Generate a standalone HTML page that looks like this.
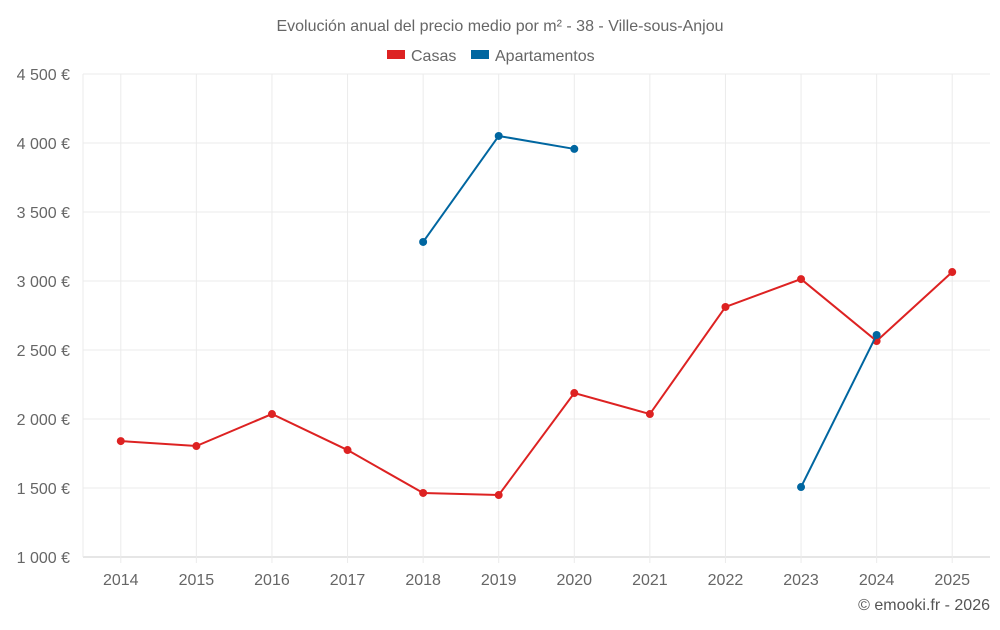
<!DOCTYPE html>
<html><head><meta charset="utf-8"><style>
body{margin:0;background:#fff;}
svg{font-family:"Liberation Sans",sans-serif;}
</style></head><body>
<svg id="c" width="1000" height="625">
<text x="500" y="31" text-anchor="middle" font-size="16" fill="#666">Evolución anual del precio medio por m² - 38 - Ville-sous-Anjou</text>
<g>
<g><rect x="387" y="50" width="18" height="9" fill="#dd2222"/><text x="411" y="61" font-size="16" fill="#666">Casas</text></g>
<g><rect x="471" y="50" width="18" height="9" fill="#0066a0"/><text x="495" y="61" font-size="16" fill="#666">Apartamentos</text></g>
</g>
<g id="grid"></g><g id="axes"></g><g id="series"></g>
<text x="990" y="610" text-anchor="end" font-size="16" fill="#555">© emooki.fr - 2026</text>
</svg>
<script>
const years=["2014","2015","2016","2017","2018","2019","2020","2021","2022","2023","2024","2025"];
const casas=[1840,1804,2036,1775,1464,1449,2188,2036,2812,3014,2565,3065];
const apartamentos=[null,null,null,null,3283,4051,3957,null,null,1507,2609,null];
const yTicks=[1000,1500,2000,2500,3000,3500,4000,4500];
const yTickLabels=["1 000 €","1 500 €","2 000 €","2 500 €","3 000 €","3 500 €","4 000 €","4 500 €"];
const L=83,R=990,T=74,B=557,ymin=1000,ymax=4500;
const bw=(R-L)/years.length;
const xs=i=>L+bw*(i+0.5);
const ys=v=>B-(v-ymin)/(ymax-ymin)*(B-T);
const NS="http://www.w3.org/2000/svg";
function mk(t,a,p){const e=document.createElementNS(NS,t);for(const k in a)e.setAttribute(k,a[k]);p.appendChild(e);return e;}
const grid=document.getElementById('grid'),axes=document.getElementById('axes'),ser=document.getElementById('series');
yTicks.forEach((v,i)=>{
 const l=mk('line',{x1:L,x2:R,y1:ys(v),y2:ys(v),stroke:i==0?'#ccc':'#ebebeb'},grid);
 
 
 const t=mk('text',{x:70,y:ys(v)+6,'text-anchor':'end','font-size':16,fill:'#666'},axes);
 t.textContent=yTickLabels[i];
 
 
});
mk('line',{x1:L,x2:L,y1:T,y2:B,stroke:'#ebebeb'},grid);
years.forEach((y,i)=>{
 const l=mk('line',{x1:xs(i),x2:xs(i),y1:T,y2:B+6,stroke:'#ebebeb'},grid);
 
 
 const t=mk('text',{x:xs(i),y:585,'text-anchor':'middle','font-size':16,fill:'#666'},axes);
 t.textContent=y;
 
 
});
function draw(data,color,name){
 let d='',pen=false;
 data.forEach((v,i)=>{if(v==null){pen=false;return;}d+=(pen?'L':'M')+xs(i)+' '+ys(v)+' ';pen=true;});
 const p=mk('path',{d:d,fill:'none',stroke:color,'stroke-width':2},ser);
 
 
 data.forEach((v,i)=>{if(v==null)return;
  const c=mk('circle',{cx:xs(i),cy:ys(v),r:4,fill:color},ser);
  
  
 });
}
draw(casas,'#dd2222','casas');
draw(apartamentos,'#0066a0','apartamentos');
</script>
</body></html>
